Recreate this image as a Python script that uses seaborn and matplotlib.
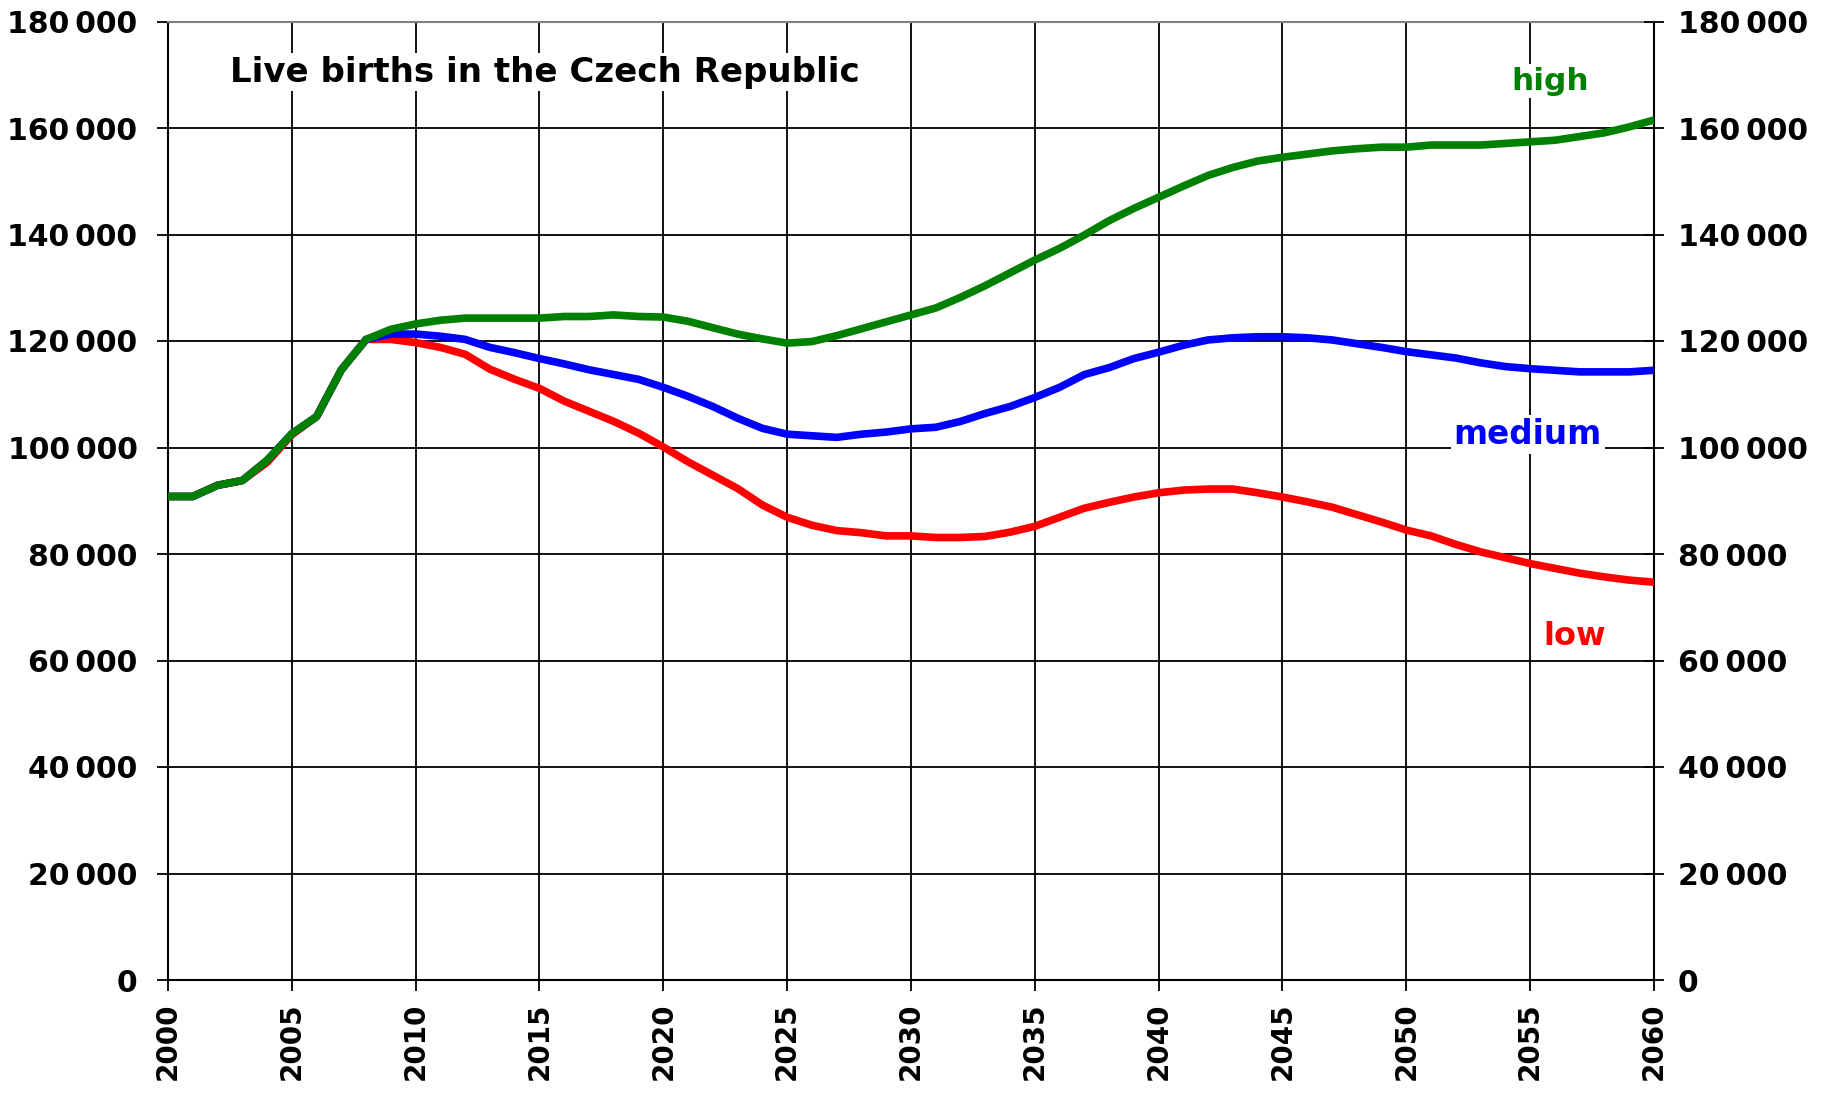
import matplotlib
matplotlib.use("Agg")
import matplotlib.pyplot as plt
import seaborn as sns
import pandas as pd
import numpy as np

years = list(range(2000, 2061))
high = [90800, 90800, 92900, 93800, 97600, 102600, 105800, 114600, 120300, 122200,
        123200, 123900, 124300, 124300, 124300, 124300, 124600, 124600, 124900, 124600,
        124500, 123700, 122500, 121300, 120400, 119600, 119900, 121000, 122300, 123600,
        124900, 126200, 128200, 130400, 132800, 135200, 137400, 139900, 142600, 144900,
        147000, 149100, 151100, 152600, 153800, 154500, 155100, 155700, 156100, 156400,
        156400, 156800, 156800, 156800, 157100, 157400, 157700, 158400, 159100, 160200,
        161500]
medium = [90800, 90800, 92900, 93800, 97600, 102600, 105800, 114600, 120300, 121300,
          121300, 120900, 120300, 118800, 117800, 116700, 115700, 114600, 113700, 112800,
          111300, 109600, 107700, 105500, 103600, 102500, 102200, 101900, 102500, 102900,
          103500, 103800, 104900, 106400, 107700, 109400, 111300, 113700, 115000, 116700,
          117900, 119200, 120200, 120600, 120800, 120800, 120600, 120200, 119500, 118800,
          118000, 117400, 116800, 115900, 115200, 114800, 114500, 114200, 114200, 114200,
          114500]
low = [90800, 90800, 92900, 93800, 97200, 102400, 105800, 114600, 120300, 120300,
       119700, 118800, 117500, 114700, 112800, 111100, 108700, 106800, 104900, 102700,
       100100, 97300, 94800, 92300, 89200, 86900, 85400, 84400, 84000, 83400,
       83400, 83100, 83100, 83300, 84100, 85200, 86900, 88600, 89700, 90700,
       91500, 92000, 92200, 92200, 91500, 90700, 89800, 88800, 87400, 86000,
       84500, 83400, 81800, 80400, 79300, 78200, 77300, 76400, 75700, 75100,
       74700]

variants = ["low", "medium", "high"]
colors = {"low": "#FF0000", "medium": "#0000FF", "high": "#008000"}
y_ticks = list(range(0, 180001, 20000))
x_ticks = list(range(2000, 2061, 5))
title = "Live births in the Czech Republic"

df = pd.concat([
    pd.DataFrame({"year": years, "births": low, "variant": "low"}),
    pd.DataFrame({"year": years, "births": medium, "variant": "medium"}),
    pd.DataFrame({"year": years, "births": high, "variant": "high"}),
])

sns.set_style("ticks")
plt.rcParams["font.family"] = ["DejaVu Sans"]
plt.rcParams["font.weight"] = "bold"
plt.rcParams["text.color"] = "black"
plt.rcParams["xtick.color"] = "black"
plt.rcParams["ytick.color"] = "black"
plt.rcParams["xtick.labelcolor"] = "black"
plt.rcParams["ytick.labelcolor"] = "black"

fig = plt.figure(figsize=(18.25, 10.95), dpi=100)
ax = fig.add_axes([168/1825, 1 - 980/1095, (1654-168)/1825, (980-21.5)/1095])

sns.lineplot(data=df, x="year", y="births", hue="variant", hue_order=variants,
             palette=colors, linewidth=5.5, ax=ax, legend=False, zorder=3)

ax.set_xlim(2000, 2060)
ax.set_ylim(0, 180000)
ax.set_xticks(x_ticks)
ax.set_yticks(y_ticks)

def fmt(v):
    return f"{v:,}".replace(",", "\u2009")

ax.set_yticklabels([fmt(v) for v in y_ticks], fontsize=21.5, fontweight="bold", color="black")
ax.set_xticklabels([str(x) for x in x_ticks], fontsize=20, fontweight="bold",
                   rotation=90, color="black")
ax.set_xlabel("")
ax.set_ylabel("")
ax.grid(True, color="black", linewidth=1.3)
ax.set_axisbelow(True)
ax.tick_params(axis="x", direction="out", length=8, width=1.3, color="black", pad=8)
ax.tick_params(axis="y", direction="out", length=8, width=1.3, color="black", pad=14)
for s in ["left", "bottom", "right"]:
    ax.spines[s].set_color("black")
    ax.spines[s].set_linewidth(1.5)
ax.spines["top"].set_color("#808080")
ax.spines["top"].set_linewidth(1.5)

ax2 = ax.twinx()
ax2.set_ylim(0, 180000)
ax2.set_yticks(y_ticks)
ax2.set_yticklabels([fmt(v) for v in y_ticks], fontsize=21.5, fontweight="bold", color="black")
ax2.tick_params(axis="y", direction="inout", length=14, width=1.3, color="black", pad=10)
for s in ax2.spines.values():
    s.set_visible(False)

bbox = dict(facecolor="white", edgecolor="none", pad=2)
ax.text(2015.2, 170500, title, fontsize=24.5, fontweight="bold", color="black",
        ha="center", va="center", bbox=bbox, zorder=5)
ax.text(2055.8, 168800, "high", fontsize=22.5, fontweight="bold", color="#008000",
        ha="center", va="center", bbox=bbox, zorder=5)
ax.text(2054.9, 102500, "medium", fontsize=23.5, fontweight="bold", color="#0000FF",
        ha="center", va="center", bbox=bbox, zorder=5)
ax.text(2056.8, 64600, "low", fontsize=23, fontweight="bold", color="#FF0000",
        ha="center", va="center", bbox=bbox, zorder=5)

fig.savefig("out.png", dpi=100, facecolor="white")
